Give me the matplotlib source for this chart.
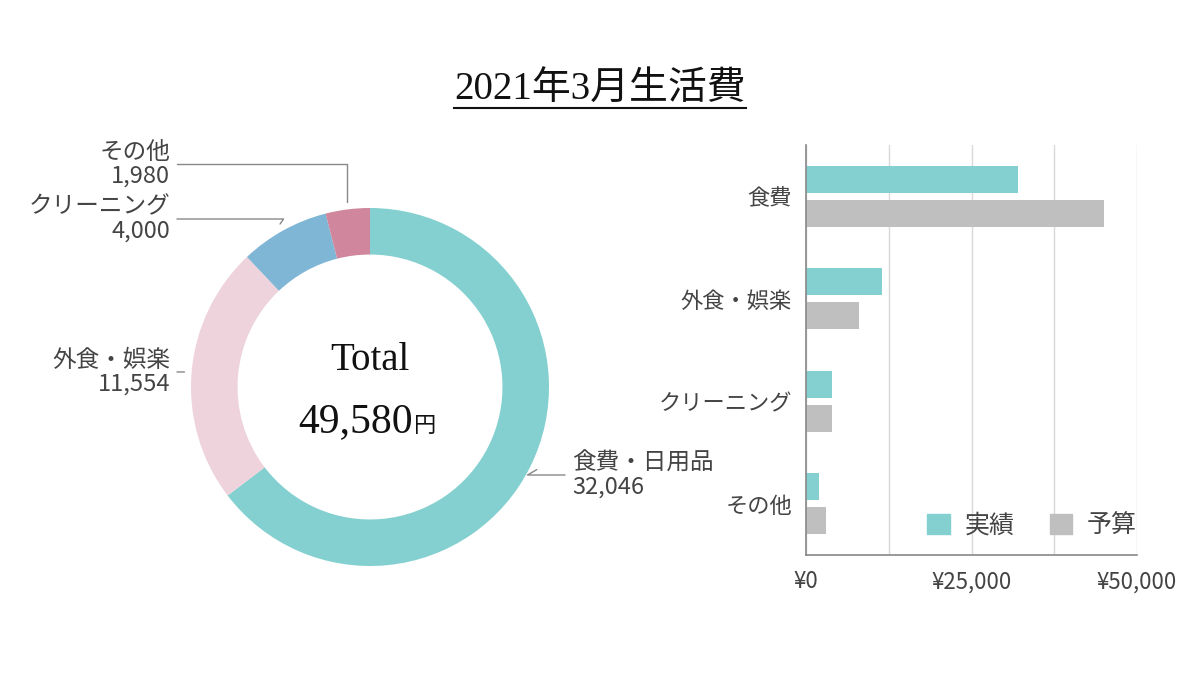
import matplotlib
matplotlib.use('Agg')
import matplotlib.pyplot as plt
import numpy as np
from matplotlib.patches import Patch
from matplotlib.lines import Line2D

plt.rcParams['font.family'] = ['Noto Sans CJK JP', 'DejaVu Sans']

# donut data
pie_labels = ['食費・日用品', '外食・娯楽', 'クリーニング', 'その他']
pie_values = [32046, 11554, 4000, 1980]
pie_colors = ['#84D0D0', '#EED3DC', '#7FB6D5', '#D0869D']

# bar data
bar_categories = ['食費', '外食・娯楽', 'クリーニング', 'その他']
actual = [32046, 11554, 4000, 1980]
budget = [45000, 8000, 4000, 3000]
x_ticks = [0, 12500, 25000, 37500, 50000]
x_ticklabels = ['¥0', '', '¥25,000', '', '¥50,000']

W, H = 1200, 675
fig = plt.figure(figsize=(12, 6.75), dpi=100)
text_color = '#444444'
serif = ['Liberation Serif', 'Noto Sans CJK JP']

# title with underline
title = fig.text(600 / W, 1 - 90 / H, '2021年3月生活費', ha='center', va='center',
                 fontsize=28, family=serif, color='#111111')
fig.canvas.draw()
bb = title.get_window_extent(fig.canvas.get_renderer())
uy = 1 - 108 / H
fig.add_artist(Line2D([bb.x0 / W, bb.x1 / W], [uy, uy],
                      transform=fig.transFigure, color='#111111', lw=1.5))

# donut
ax = fig.add_axes([170 / W, (H - 587) / H, 400 / W, 400 / H])
wedges, _ = ax.pie(pie_values, colors=pie_colors, startangle=90, counterclock=False,
                   radius=1, wedgeprops=dict(width=0.26, linewidth=0))
lim = 200 / 179
ax.set_xlim(-lim, lim)
ax.set_ylim(-lim, lim)
ax.axis('off')

label_pos = [(572, 475, 'left', 'angle,angleA=0,angleB=30'),
             (170, 372, 'right', 'arc3,rad=0'),
             (170, 219, 'right', 'angle,angleA=0,angleB=55'),
             (170, 164, 'right', 'angle,angleA=0,angleB=90')]
for w, lab, val, (tx, ty, ha, cs) in zip(wedges, pie_labels, pie_values, label_pos):
    ang = np.deg2rad((w.theta1 + w.theta2) / 2)
    r = 1.04
    ax.annotate(f'{lab}\n{val:,}', xy=(r * np.cos(ang), r * np.sin(ang)),
                xytext=(tx, H - ty), textcoords='figure pixels',
                ha=ha, va='center', fontsize=17, color=text_color, linespacing=1.05,
                arrowprops=dict(arrowstyle='-', color='#888888', lw=1,
                                connectionstyle=cs, shrinkA=3, shrinkB=0))

total = sum(pie_values)
fig.text(370 / W, 1 - 360 / H, 'Total', ha='center', va='center', fontsize=28,
         family=serif, color='#111111')
fig.text(413 / W, 1 - 432 / H, f'{total:,}', ha='right', va='baseline', fontsize=30,
         family=serif, color='#111111')
fig.text(414 / W, 1 - 432 / H, '円', ha='left', va='baseline', fontsize=16,
         color='#111111')

# bar chart
bx = fig.add_axes([806 / W, (H - 555) / H, 331 / W, 410 / H])
y = np.arange(len(bar_categories))
off = 0.166
bh = 0.265
bx.barh(y - off, actual, height=bh, color='#84D0D0', label='実績', zorder=3)
bx.barh(y + off, budget, height=bh, color='#BFBFBF', label='予算', zorder=3)
bx.set_ylim(3.5, -0.5)
bx.set_xlim(0, 50000)
bx.set_yticks(y)
bx.set_yticklabels(bar_categories)
bx.set_xticks(x_ticks)
bx.set_xticklabels(x_ticklabels)
bx.tick_params(axis='both', length=0, labelsize=16, colors=text_color)
bx.tick_params(axis='y', pad=10)
bx.tick_params(axis='x', pad=11)
bx.grid(axis='x', color='#D9D9D9', lw=1, zorder=0)
for s in ['top', 'right']:
    bx.spines[s].set_visible(False)
for s in ['left', 'bottom']:
    bx.spines[s].set_color('#888888')
    bx.spines[s].set_linewidth(1.2)
    bx.spines[s].set_zorder(4)

handles = [Patch(color='#84D0D0', label='実績'), Patch(color='#BFBFBF', label='予算')]
bx.legend(handles=handles, loc='lower right', bbox_to_anchor=(1.0, 0.04), ncol=2,
          frameon=False, fontsize=18, handlelength=0.9, handleheight=0.9,
          handletextpad=0.6, columnspacing=1.4, borderaxespad=0, borderpad=0,
          labelcolor=text_color)

fig.savefig('out.png', dpi=100)
